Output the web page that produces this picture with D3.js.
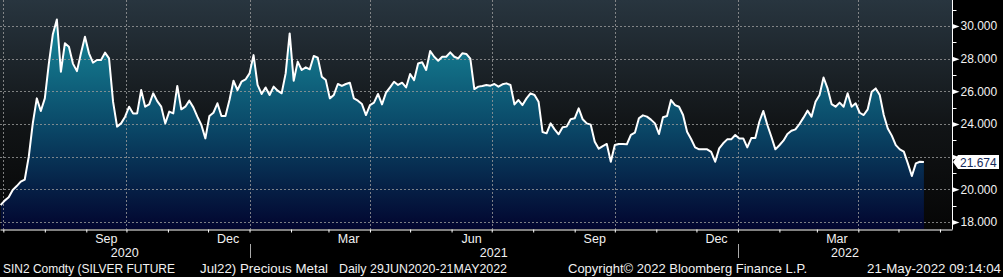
<!DOCTYPE html>
<html lang="en">
<head>
<meta charset="UTF-8">
<title>SIN2 Comdty</title>
<script src="https://d3js.org/d3.v7.min.js"></script>
<style>
  body { margin: 0; background: #000; }
  text { font-family: "Liberation Sans", Arial, sans-serif; font-size: 12px; fill: #f2f2f2; }
  text.month, text.year { font-size: 12.5px; }
  text.footer { font-size: 13px; }
</style>
</head>
<body>
<div id="chart"></div>
<script>
var dates = [
  "2020-06-29","2020-07-02","2020-07-05","2020-07-08","2020-07-11","2020-07-14","2020-07-17","2020-07-20","2020-07-23","2020-07-26",
  "2020-07-29","2020-08-01","2020-08-04","2020-08-07","2020-08-10","2020-08-13","2020-08-16","2020-08-19","2020-08-22","2020-08-25",
  "2020-08-28","2020-08-31","2020-09-03","2020-09-06","2020-09-09","2020-09-12","2020-09-15","2020-09-18","2020-09-21","2020-09-24",
  "2020-09-27","2020-09-30","2020-10-03","2020-10-06","2020-10-09","2020-10-12","2020-10-15","2020-10-18","2020-10-21","2020-10-24",
  "2020-10-27","2020-10-30","2020-11-02","2020-11-05","2020-11-08","2020-11-11","2020-11-14","2020-11-17","2020-11-20","2020-11-23",
  "2020-11-26","2020-11-29","2020-12-02","2020-12-05","2020-12-08","2020-12-11","2020-12-14","2020-12-17","2020-12-20","2020-12-23",
  "2020-12-26","2020-12-29","2021-01-01","2021-01-04","2021-01-07","2021-01-10","2021-01-13","2021-01-16","2021-01-19","2021-01-22",
  "2021-01-25","2021-01-28","2021-01-31","2021-02-03","2021-02-06","2021-02-09","2021-02-12","2021-02-15","2021-02-18","2021-02-21",
  "2021-02-24","2021-02-27","2021-03-02","2021-03-05","2021-03-08","2021-03-11","2021-03-14","2021-03-17","2021-03-20","2021-03-23",
  "2021-03-26","2021-03-29","2021-04-01","2021-04-04","2021-04-07","2021-04-10","2021-04-13","2021-04-16","2021-04-19","2021-04-22",
  "2021-04-25","2021-04-28","2021-05-01","2021-05-04","2021-05-07","2021-05-10","2021-05-13","2021-05-16","2021-05-19","2021-05-22",
  "2021-05-25","2021-05-28","2021-05-31","2021-06-03","2021-06-06","2021-06-09","2021-06-12","2021-06-15","2021-06-18","2021-06-21",
  "2021-06-24","2021-06-27","2021-06-30","2021-07-03","2021-07-06","2021-07-09","2021-07-12","2021-07-15","2021-07-18","2021-07-21",
  "2021-07-24","2021-07-27","2021-07-30","2021-08-02","2021-08-05","2021-08-08","2021-08-11","2021-08-14","2021-08-17","2021-08-20",
  "2021-08-23","2021-08-26","2021-08-29","2021-09-01","2021-09-04","2021-09-07","2021-09-10","2021-09-13","2021-09-16","2021-09-19",
  "2021-09-22","2021-09-25","2021-09-28","2021-10-01","2021-10-04","2021-10-07","2021-10-10","2021-10-13","2021-10-16","2021-10-19",
  "2021-10-22","2021-10-25","2021-10-28","2021-10-31","2021-11-03","2021-11-06","2021-11-09","2021-11-12","2021-11-15","2021-11-18",
  "2021-11-21","2021-11-24","2021-11-27","2021-11-30","2021-12-03","2021-12-06","2021-12-09","2021-12-12","2021-12-15","2021-12-18",
  "2021-12-21","2021-12-24","2021-12-27","2021-12-30","2022-01-02","2022-01-05","2022-01-08","2022-01-11","2022-01-14","2022-01-17",
  "2022-01-20","2022-01-23","2022-01-26","2022-01-29","2022-02-01","2022-02-04","2022-02-07","2022-02-10","2022-02-13","2022-02-16",
  "2022-02-19","2022-02-22","2022-02-25","2022-02-28","2022-03-03","2022-03-06","2022-03-09","2022-03-12","2022-03-15","2022-03-18",
  "2022-03-21","2022-03-24","2022-03-27","2022-03-30","2022-04-02","2022-04-05","2022-04-08","2022-04-11","2022-04-14","2022-04-17",
  "2022-04-20","2022-04-23","2022-04-26","2022-04-29","2022-05-02","2022-05-05","2022-05-08","2022-05-11","2022-05-14","2022-05-17",
  "2022-05-20"
];
var prices = [
  19.04,19.31,19.51,19.96,20.20,20.47,20.60,22.00,24.04,25.57,
  24.80,25.57,27.70,29.50,30.40,27.20,28.94,28.73,27.70,27.24,
  28.33,29.35,28.33,27.76,27.92,27.92,28.37,28.02,25.37,23.84,
  24.04,24.45,25.06,24.65,24.65,26.08,25.06,25.20,25.88,25.40,
  25.06,24.04,24.76,24.65,26.33,24.90,25.06,25.43,25.02,24.45,
  23.94,23.12,24.49,24.69,25.27,24.49,24.49,25.47,26.65,26.08,
  26.59,26.73,27.10,28.22,26.40,25.84,26.24,25.78,26.29,26.04,
  25.88,27.10,29.55,26.65,27.82,27.31,27.47,27.35,28.17,28.06,
  26.90,26.69,25.57,25.78,26.45,26.33,26.45,26.53,25.57,25.43,
  25.22,24.55,25.16,25.31,25.84,25.20,25.92,26.24,26.59,26.39,
  26.53,26.24,27.06,26.69,27.71,27.78,27.31,28.47,28.12,27.88,
  28.12,28.12,28.39,28.12,28.02,28.33,28.29,28.00,26.14,26.29,
  26.33,26.39,26.35,26.45,26.29,26.43,26.49,26.39,25.20,25.47,
  25.16,25.57,25.88,25.78,25.37,23.51,23.43,24.04,23.67,23.37,
  23.80,23.84,24.29,24.35,24.96,24.29,24.04,23.96,22.92,22.49,
  22.65,22.78,21.69,22.71,22.78,22.78,22.76,23.33,23.47,24.35,
  24.53,24.45,24.27,24.04,23.39,24.41,24.49,25.47,25.16,25.06,
  24.55,23.53,23.08,22.57,22.45,22.45,22.45,22.29,21.69,22.51,
  22.82,23.06,23.06,23.33,23.12,23.12,22.57,23.14,23.14,24.14,
  24.80,23.94,23.22,22.45,22.70,22.98,23.39,23.59,23.67,24.00,
  24.39,24.82,24.45,25.37,25.78,26.85,26.18,25.22,25.06,25.31,
  25.06,25.88,25.06,25.27,24.69,24.55,24.90,25.98,26.18,25.78,
  24.55,23.73,23.29,22.71,22.45,22.31,21.59,20.82,21.59,21.69,
  21.674
];
var yTicks = [18, 20, 22, 24, 26, 28, 30];
var monthNames = {8: "Sep", 11: "Dec", 2: "Mar", 5: "Jun"};
var footer = ["SIN2 Comdty (SILVER FUTURE", "Jul22) Precious Metal", "Daily 29JUN2020-21MAY2022",
              "Copyright\u00a9 2022 Bloomberg Finance L.P.", "21-May-2022 09:14:04"];
var lastLabel = "21.674";

var W = 1003, H = 277, plotW = 952, plotH = 229;
var parse = d3.timeParse("%Y-%m-%d");
var data = dates.map(function(d, i) { return {date: parse(d), value: prices[i]}; });
var lastValue = prices[prices.length - 1];

var svg = d3.select("#chart").append("svg")
    .attr("width", W).attr("height", H);

var defs = svg.append("defs");
var bg = defs.append("linearGradient").attr("id", "bg")
    .attr("x1", 0).attr("y1", 0).attr("x2", 0).attr("y2", 1);
bg.append("stop").attr("offset", "0%").attr("stop-color", "#28353f");
bg.append("stop").attr("offset", "55%").attr("stop-color", "#111416");
bg.append("stop").attr("offset", "100%").attr("stop-color", "#060606");

var ag = defs.append("linearGradient").attr("id", "areaFill")
    .attr("gradientUnits", "userSpaceOnUse")
    .attr("x1", 0).attr("y1", 20).attr("x2", 0).attr("y2", plotH);
ag.append("stop").attr("offset", "0%").attr("stop-color", "#178a9b");
ag.append("stop").attr("offset", "48%").attr("stop-color", "#0b4c6b");
ag.append("stop").attr("offset", "100%").attr("stop-color", "#02052f");

svg.append("rect").attr("width", W).attr("height", H).attr("fill", "#000");
svg.append("rect").attr("width", plotW).attr("height", plotH).attr("fill", "url(#bg)");

var x = d3.scaleTime()
    .domain([new Date(2020, 5, 28, 12), new Date(2022, 5, 10)])
    .range([0, plotW]);
var y = d3.scaleLinear()
    .domain([18 - 7 / 16.33, 18 + 222 / 16.33])
    .range([plotH, 0]);

// area
svg.append("path").datum(data)
    .attr("fill", "url(#areaFill)")
    .attr("d", d3.area().x(function(d) { return x(d.date); }).y0(plotH).y1(function(d) { return y(d.value); }));

// grid
var grid = svg.append("g").attr("stroke", "#9a9a9a").attr("stroke-dasharray", "2,2")
    .attr("stroke-width", 1).attr("opacity", 0.8);
grid.selectAll("line.h").data(yTicks).enter().append("line")
    .attr("x1", 0).attr("x2", plotW)
    .attr("y1", function(d) { return Math.round(y(d)) + 0.5; })
    .attr("y2", function(d) { return Math.round(y(d)) + 0.5; });
var quarters = d3.timeMonth.every(3).range(new Date(2020, 6, 1), x.domain()[1]);
grid.selectAll("line.v").data(quarters).enter().append("line")
    .attr("x1", function(d) { return Math.round(x(d)) + 0.5; })
    .attr("x2", function(d) { return Math.round(x(d)) + 0.5; })
    .attr("y1", 0).attr("y2", plotH);

// price line
svg.append("path").datum(data)
    .attr("fill", "none").attr("stroke", "#fff").attr("stroke-width", 2)
    .attr("stroke-linejoin", "round")
    .attr("d", d3.line().x(function(d) { return x(d.date); }).y(function(d) { return y(d.value); }));

// bottom axis with monthly ticks
var xAxis = svg.append("g").attr("transform", "translate(0," + (plotH + 0.5) + ")")
    .call(d3.axisBottom(x).ticks(d3.timeMonth.every(1)).tickFormat("").tickSizeInner(3).tickSizeOuter(0));
xAxis.selectAll("path, line").attr("stroke", "#fff");

// month labels in the middle of Sep / Dec / Mar / Jun
var labelMonths = d3.timeMonth.range(new Date(2020, 6, 1), new Date(2022, 4, 1))
    .filter(function(d) { return monthNames[d.getMonth()]; });
svg.selectAll("text.month").data(labelMonths).enter().append("text")
    .attr("class", "month")
    .attr("x", function(d) { return x(d3.timeDay.offset(d, 15)); })
    .attr("y", 243).attr("text-anchor", "middle")
    .text(function(d) { return monthNames[d.getMonth()]; });

// years
var years = [2020, 2021, 2022];
svg.selectAll("text.year").data(years).enter().append("text")
    .attr("class", "year")
    .attr("x", function(d) {
      var a = Math.max(0, x(new Date(d, 0, 1))), b = Math.min(plotW, x(new Date(d + 1, 0, 1)));
      return (a + b) / 2;
    })
    .attr("y", 257).attr("text-anchor", "middle")
    .text(function(d) { return d; });
svg.selectAll("line.ysep").data([2021, 2022]).enter().append("line")
    .attr("x1", function(d) { return Math.round(x(new Date(d, 0, 1))) + 0.5; })
    .attr("x2", function(d) { return Math.round(x(new Date(d, 0, 1))) + 0.5; })
    .attr("y1", 244).attr("y2", 258).attr("stroke", "#aaa");

// right axis; the 22 label sits under the last-price tag
var yAxis = svg.append("g").attr("transform", "translate(" + (plotW + 0.5) + ",0)")
    .call(d3.axisRight(y).tickValues(yTicks).tickSize(0).tickPadding(8)
      .tickFormat(function(d) { return d === 22 ? "" : d3.format(".3f")(d); }));
yAxis.select("path").attr("stroke", "#fff").attr("d", "M0,0V" + (plotH + 0.5));
yAxis.selectAll("text").attr("fill", "#f2f2f2").style("font-size", "12px")
    .style("font-family", '"Liberation Sans", Arial, sans-serif');
yAxis.selectAll(".tick").append("path")
    .attr("d", "M0,-2.5L7,0L0,2.5Z").attr("fill", "#fff");
yAxis.selectAll("line.minor").data([19, 21, 23, 25, 27, 29, 31]).enter().append("line")
    .attr("x1", 0).attr("x2", 4)
    .attr("y1", function(d) { return Math.round(y(d)) + 0.5; })
    .attr("y2", function(d) { return Math.round(y(d)) + 0.5; })
    .attr("stroke", "#fff");

// last price tag
var ly = y(lastValue);
svg.append("path")
    .attr("d", "M" + (plotW + 1) + "," + ly + "L" + (plotW + 6) + "," + (ly - 7) + "H999V" + (ly + 7) + "H" + (plotW + 6) + "Z")
    .attr("fill", "#fff");
svg.append("text").attr("x", plotW + 8).attr("y", ly + 4.5)
    .style("fill", "#142a5a").text(lastLabel);

// footer, each piece stretched to the span it has in the original
var fx = [3, 200, 339, 568, 867];
var fw = [172, 128, 168, 239, 134];
footer.forEach(function(t, i) {
  svg.append("text").attr("class", "footer")
      .attr("x", fx[i]).attr("y", 273)
      .attr("textLength", fw[i]).attr("lengthAdjust", "spacingAndGlyphs")
      .text(t);
});
</script>
</body>
</html>
